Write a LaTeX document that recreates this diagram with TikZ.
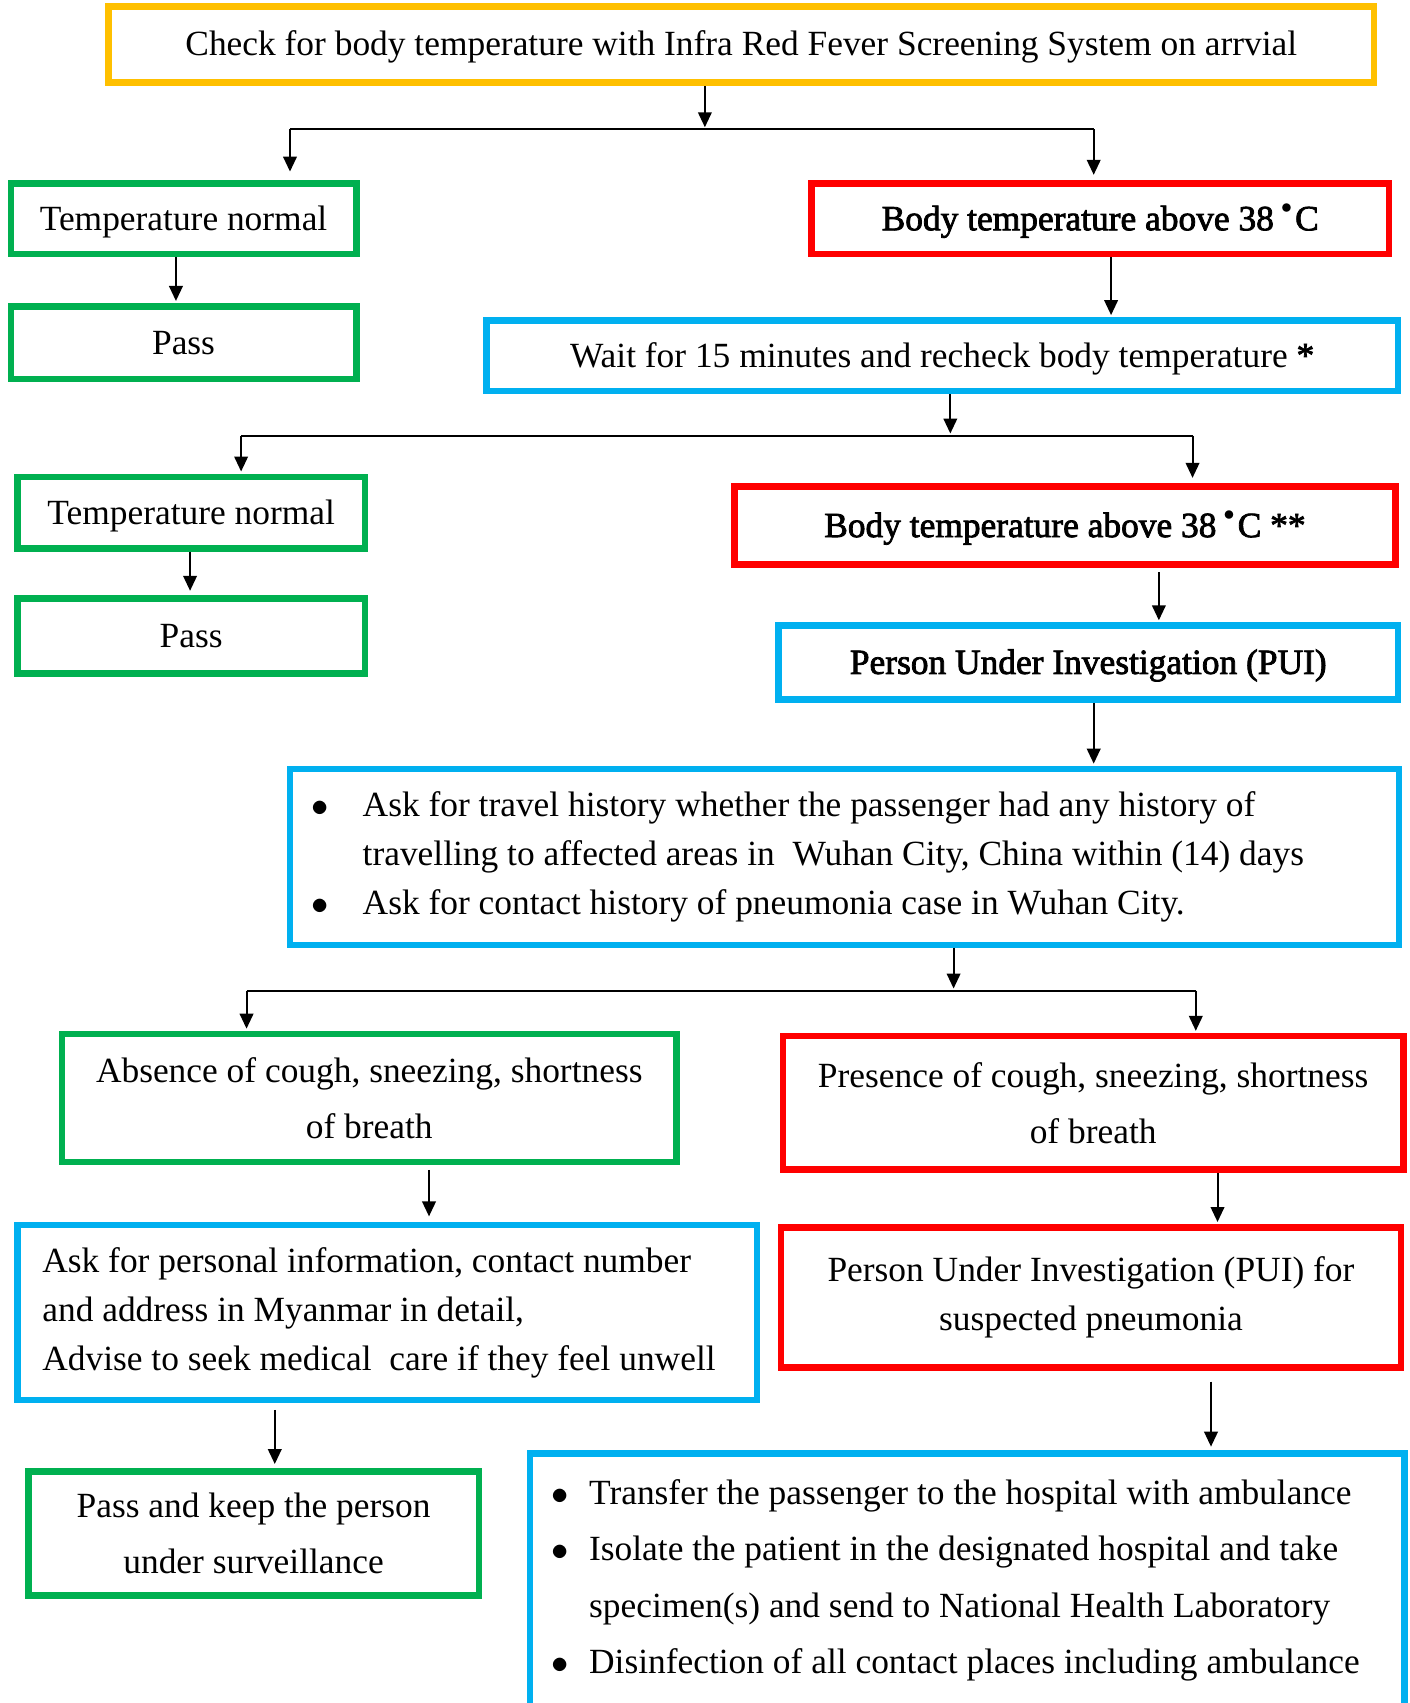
\documentclass[tikz,border=0pt]{standalone}
\usepackage{fontspec}
\setmainfont{Liberation Serif}
\newfontfamily\heavyface[FakeBold=2.2]{Liberation Serif}
\usetikzlibrary{arrows.meta}
\definecolor{boxyellow}{HTML}{FFC000}
\definecolor{boxgreen}{HTML}{00B050}
\definecolor{boxred}{HTML}{FF0000}
\definecolor{boxblue}{HTML}{00B0F0}
\def\pxu{0.5431pt}
\newcommand{\degdot}{\kern3.6pt\raisebox{8.4pt}{\fontsize{10.5}{10.5}\selectfont$\bullet$}\kern1.6pt}
\newcommand{\dotitem}[1]{\makebox[#1][l]{$\bullet$}}
\tikzset{
    stage/.style = {draw, fill=white, line width=3.3pt, rectangle, inner sep=0pt, align=center, font=\fontsize{17.7}{28.2}\selectfont},
    boxsize/.style 2 args = {minimum width=#1*\pxu, minimum height=#2*\pxu},
    oneline/.style = {text height=13.7pt, text depth=2.3pt},
    tight/.style = {font=\fontsize{17.7}{24.6}\selectfont},
    heavy/.style = {font=\fontsize{17.7}{28.2}\selectfont\heavyface},
    yellowbox/.style = {stage, draw=boxyellow},
    greenbox/.style = {stage, draw=boxgreen},
    redbox/.style = {stage, draw=boxred},
    bluebox/.style = {stage, draw=boxblue},
    link/.style = {line width=1pt},
    arr/.style = {link, -{Triangle[length=7.5pt, width=6.8pt]}, shorten >=1pt},
}

\begin{document}
\begin{tikzpicture}[x=\pxu, y=-\pxu]
\useasboundingbox (0,0) rectangle (1298,1568);
\clip (0,0) rectangle (1298,1568);

\node[yellowbox, oneline, boxsize={1165}{70}] (check) at (682.5,41) {Check for body temperature with Infra Red Fever Screening System on arrvial};

\node[greenbox, oneline, boxsize={318}{65}] (normA) at (169,201.5) {Temperature normal};
\node[greenbox, oneline, boxsize={318}{67}] (passA) at (169,315.5) {Pass};
\node[redbox, oneline, heavy, boxsize={532}{65}] (hotA) at (1013,201.5) {Body temperature above 38\degdot C};
\node[bluebox, oneline, boxsize={839}{65}] (wait) at (867.5,327.5) {Wait for 15 minutes and recheck body temperature {\heavyface*}};

\node[greenbox, oneline, boxsize={320}{66}] (normB) at (176,472) {Temperature normal};
\node[greenbox, oneline, boxsize={320}{69}] (passB) at (176,585.5) {Pass};
\node[redbox, oneline, heavy, boxsize={609}{72}] (hotB) at (980.5,484) {Body temperature above 38\degdot C **};
\node[bluebox, oneline, heavy, boxsize={570}{68}] (pui) at (1002,610) {Person Under Investigation (PUI)};

\node[bluebox, tight, boxsize={1021}{162}, inner xsep=20*\pxu, text width=981*\pxu, align=flush left] (travel) at (777.5,789) {%
\dotitem{25.5pt}Ask for travel history whether the passenger had any history of\\
\hspace*{25.5pt}travelling to affected areas in \ Wuhan City, China within (14) days\\
\dotitem{25.5pt}Ask for contact history of pneumonia case in Wuhan City.};

\node[greenbox, boxsize={566}{118}] (absent) at (340,1011) {Absence of cough, sneezing, shortness\\of breath};
\node[redbox, boxsize={571}{123}] (present) at (1006.5,1015.5) {Presence of cough, sneezing, shortness\\of breath};

\node[bluebox, tight, boxsize={681}{161}, inner xsep=23*\pxu, text width=635*\pxu, align=flush left] (details) at (356.5,1208.5) {Ask for personal information, contact number\\and address in Myanmar in detail,\\Advise to seek medical \ care if they feel unwell};
\node[redbox, tight, boxsize={571}{129}] (suspect) at (1004.5,1194.5) {Person Under Investigation (PUI) for\\suspected pneumonia};

\node[greenbox, boxsize={415}{114}] (watch) at (233.5,1412) {Pass and keep the person\\under surveillance};
\node[bluebox, boxsize={805}{234}, inner xsep=20*\pxu, text width=765*\pxu, align=flush left] (transfer) at (890.5,1455) {%
\dotitem{18.7pt}Transfer the passenger to the hospital with ambulance\\
\dotitem{18.7pt}Isolate the patient in the designated hospital and take\\
\hspace*{18.7pt}specimen(s) and send to National Health Laboratory\\
\dotitem{18.7pt}Disinfection of all contact places including ambulance};

\coordinate (jA) at (649,119);
\coordinate (lA) at (267,119);
\coordinate (rA) at (1007,119);
\coordinate (jB) at (875,401);
\coordinate (lB) at (222,401);
\coordinate (rB) at (1098,401);
\coordinate (jC) at (878,912);
\coordinate (lC) at (227,912);
\coordinate (rC) at (1101,912);
\coordinate (cA) at (162,0);
\coordinate (cB) at (1023,0);
\coordinate (cC) at (175,0);
\coordinate (cD) at (1067,0);
\coordinate (cE) at (1007,0);
\coordinate (cF) at (395,0);
\coordinate (cG) at (1121,0);
\coordinate (cH) at (253,0);
\coordinate (cI) at (1115,0);

\draw[arr] (check.south -| jA) -- (jA);
\draw[link] (lA) -- (rA);
\draw[arr, shorten >=8*\pxu] (lA) -- (lA |- normA.north);
\draw[arr, shorten >=5*\pxu] (rA) -- (rA |- hotA.north);
\draw[arr] (normA.south -| cA) -- (passA.north -| cA);
\draw[arr] (hotA.south -| cB) -- (wait.north -| cB);

\draw[arr] (wait.south -| jB) -- (jB);
\draw[link] (lB) -- (rB);
\draw[arr] (lB) -- (lB |- normB.north);
\draw[arr, shorten >=5*\pxu] (rB) -- (rB |- hotB.north);
\draw[arr, shorten >=4*\pxu] (normB.south -| cC) -- (passB.north -| cC);
\draw[arr, shorten <=4*\pxu] (hotB.south -| cD) -- (pui.north -| cD);
\draw[arr] (pui.south -| cE) -- (travel.north -| cE);

\draw[arr] (travel.south -| jC) -- (jC);
\draw[link] (lC) -- (rC);
\draw[arr] (lC) -- (lC |- absent.north);
\draw[arr] (rC) -- (rC |- present.north);
\draw[arr, shorten <=4*\pxu, shorten >=5*\pxu] (absent.south -| cF) -- (details.north -| cF);
\draw[arr] (present.south -| cG) -- (suspect.north -| cG);
\draw[arr, shorten <=6*\pxu, shorten >=4*\pxu] (details.south -| cH) -- (watch.north -| cH);
\draw[arr, shorten <=10*\pxu, shorten >=3*\pxu] (suspect.south -| cI) -- (transfer.north -| cI);
\end{tikzpicture}
\end{document}
